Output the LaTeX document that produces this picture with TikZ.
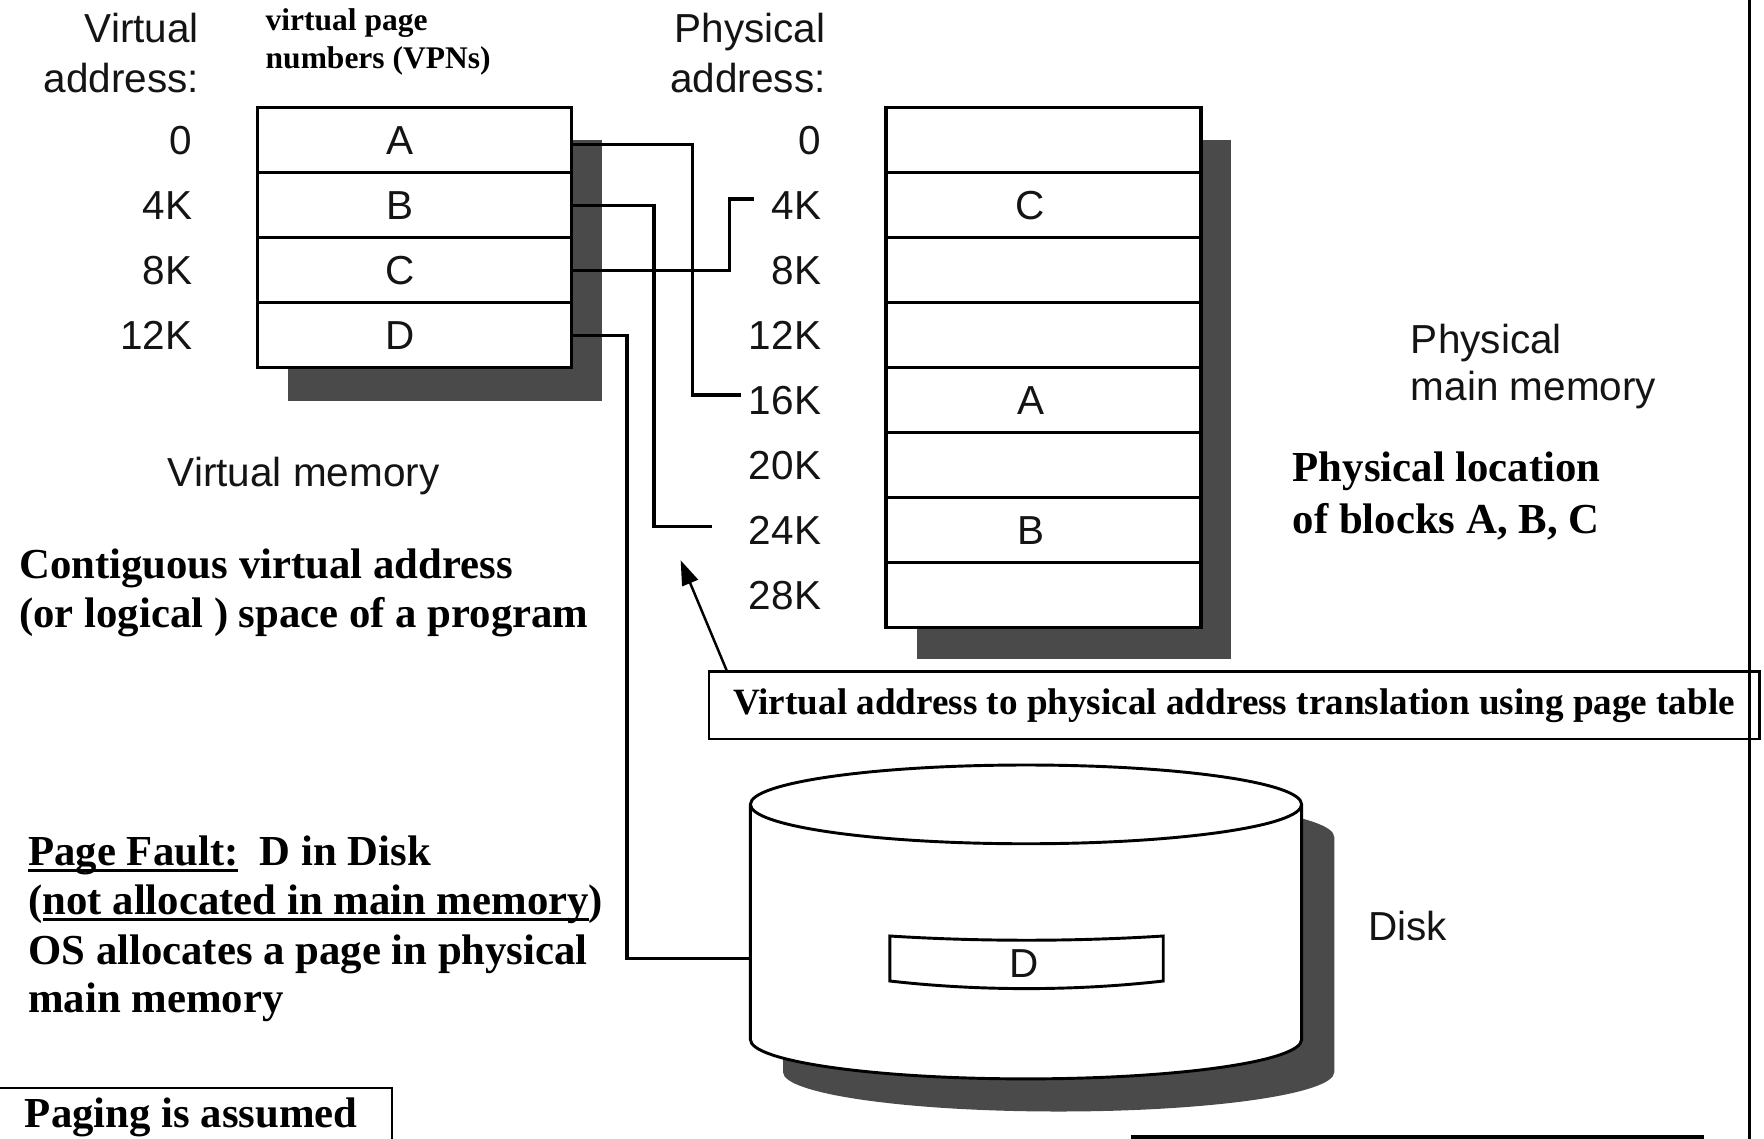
\documentclass[tikz,border=0pt]{standalone}
\usepackage{fontspec}
\setmainfont{Liberation Serif}
\newfontfamily\helv{Liberation Sans}
\usetikzlibrary{arrows.meta,calc}

\definecolor{shadowgray}{HTML}{4A4A4A}
\definecolor{ink}{HTML}{141414}

% underline drawn at a fixed depth below the baseline
\newcommand\ulfix[1]{\setbox0\hbox{#1}\leavevmode\rlap{\rule[-6pt]{\wd0}{3pt}}\box0}

\tikzset{
  sanstext/.style={inner sep=0pt, text=ink, font=\helv\fontsize{36}{43}\selectfont},
  boldtext/.style={inner sep=0pt, font=\bfseries\fontsize{38}{46}\selectfont},
  addr/.style={sanstext, anchor=base east},
  cell/.style={draw, line width=2.8pt, fill=white, minimum height=57.8pt, inner sep=0pt},
  vcell/.style={cell, minimum width=279pt},
  pcell/.style={cell, minimum width=280pt},
  wire/.style={line width=3pt},
  diskline/.style={line width=2.6pt},
}

\begin{document}
\begin{tikzpicture}[x=1pt, y=-1pt]
\useasboundingbox (0,0) rectangle (1568,1012);
\clip (0,0) rectangle (1568,1012);
\fill[white] (0,0) rectangle (1568,1012);

% ---------- virtual memory ----------
\node[sanstext, anchor=base east] (vh1) at (177,38) {Virtual};
\node[sanstext, anchor=base east] (vh2) at (177,82) {address:};
\node[inner sep=0pt, anchor=base west, font=\bfseries\fontsize{28}{34}\selectfont] (vpn1) at (236,27) {virtual page};
\node[inner sep=0pt, anchor=base west, font=\bfseries\fontsize{28}{34}\selectfont] (vpn2) at (236,61) {numbers (VPNs)};

\fill[shadowgray] (256,124.2) rectangle (535,356.5);
\foreach \i/\lab/\adr in {0/A/0,1/B/4K,2/C/8K,3/D/12K} {
  \node[vcell] (v\i) at (368.5,{95.7+57.8*(\i+0.5)}) {};
  \node[sanstext, anchor=base] (vl\i) at (356,{95.7+57.8*(\i+0.5)+13}) {\lab};
  \node[addr] (va\i) at (171,{95.7+57.8*(\i+0.5)+13}) {\adr};
}
\node[sanstext, anchor=base west] (vmem) at (149,432) {Virtual memory};

% ---------- physical memory ----------
\node[sanstext, anchor=base east] (ph1) at (734,38) {Physical};
\node[sanstext, anchor=base east] (ph2) at (734,82) {address:};

\fill[shadowgray] (815,124.2) rectangle (1094.5,586);
\foreach \i/\adr in {0/0,1/4K,2/8K,3/12K,4/16K,5/20K,6/24K,7/28K} {
  \node[pcell] (p\i) at (927.5,{95.7+57.8*(\i+0.5)}) {};
  \node[addr] (pa\i) at (730,{95.7+57.8*(\i+0.5)+13}) {\adr};
}
\foreach \i/\lab in {1/C,4/A,6/B}
  \node[sanstext, anchor=base] (pl\i) at (916,{95.7+57.8*(\i+0.5)+13}) {\lab};

\node[sanstext, anchor=base west] (pm1) at (1254,314) {Physical};
\node[sanstext, anchor=base west] (pm2) at (1254,356) {main memory};

\node[boldtext, anchor=base west] (loc1) at (1149,428) {Physical location};
\node[boldtext, anchor=base west] (loc2) at (1149,474) {of blocks A, B, C};

% ---------- disk ----------
\begin{scope}[shift={(29,29)}]
  \fill[shadowgray] (667,715) -- (667,924) arc[start angle=180, end angle=0, x radius=245, y radius=35]
    -- (1157,715) arc[start angle=0, end angle=-180, x radius=245, y radius=35] -- cycle;
\end{scope}
\filldraw[diskline, fill=white] (667,715) -- (667,924) arc[start angle=180, end angle=0, x radius=245, y radius=35]
    -- (1157,715) arc[start angle=0, end angle=-180, x radius=245, y radius=35] -- cycle;
\draw[diskline] (667,715) arc[start angle=180, end angle=0, x radius=245, y radius=35];
\filldraw[diskline, fill=white] (791,832) .. controls (870,837) and (955,837) .. (1034,832)
  -- (1034,872) .. controls (955,881) and (870,881) .. (791,872) -- cycle;
\node[sanstext, anchor=base] (dlab) at (910,869) {D};
\node[sanstext, anchor=base west] (disk) at (1216,836) {Disk};
\coordinate (diskL) at (667,852);

% ---------- page-table mapping ----------
\coordinate (aEnd) at (659,351);
\coordinate (bEnd) at (633,468);
\coordinate (cEnd) at (670,177);
\draw[wire] ($(v0.east)+(0,4)$) -- ++(106,0) |- (aEnd);
\draw[wire] (v1.east) -- ++(72,0) |- (bEnd);
\draw[wire] (v2.east) -- ++(139,0) |- (cEnd);
\draw[wire] (v3.east) -- ++(48,0) |- (diskL);

\node[draw, line width=2.2pt, minimum width=934pt, minimum height=60pt, inner sep=0pt,
      font=\bfseries\fontsize{33}{40}\selectfont] (ptbox) at (1097,627)
  {Virtual address to physical address translation using page table};
\coordinate (tip) at (605,498);
\draw[line width=2.2pt, -{Triangle[length=22pt, width=15pt]}] ([xshift=17pt]ptbox.north west) -- (tip);

% ---------- notes ----------
\node[boldtext, anchor=base west] (cg1) at (17,514) {Contiguous virtual address};
\node[boldtext, anchor=base west] (cg2) at (17,558) {(or logical ) space of a program};

\node[boldtext, anchor=base west] (pf1) at (25,769) {\ulfix{Page Fault:}\ \ D in Disk};
\node[boldtext, anchor=base west] (pf2) at (25,813) {(\ulfix{not allocated in main memory})};
\node[boldtext, anchor=base west] (pf3) at (25,857) {OS allocates a page in physical};
\node[boldtext, anchor=base west] (pf4) at (25,900) {main memory};

\draw[line width=2.2pt] (-20,967) rectangle (348.5,1080);
\node[boldtext, anchor=base west] (pg) at (22,1002) {Paging is assumed};

% ---------- frame lines ----------
\draw[line width=2.6pt] (1555,-5) -- (1555,1020);
\draw[line width=3pt] (1005,1010.5) -- (1515,1010.5);
\end{tikzpicture}
\end{document}
